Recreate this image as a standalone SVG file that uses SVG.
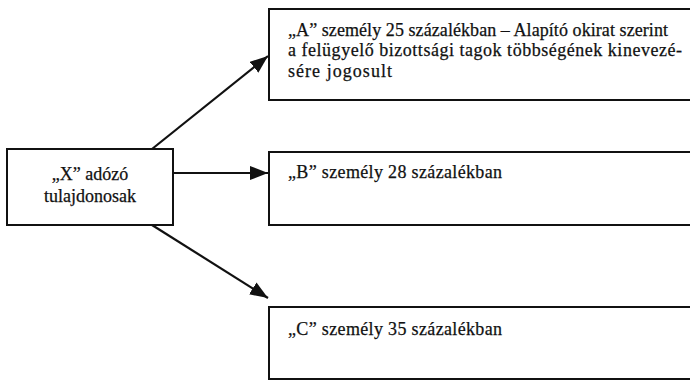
<svg xmlns="http://www.w3.org/2000/svg" width="690" height="381" viewBox="0 0 690 381">
<defs>
<style>
.box{fill:#fff;stroke:#111;stroke-width:2}
text{font-family:"Liberation Serif","DejaVu Serif",serif;font-size:18px;fill:#111;stroke:#111;stroke-width:0.25}
.c{stroke:#111;stroke-width:2.2;fill:none}
</style>
<marker id="ah" viewBox="0 0 18 14" refX="18" refY="7" markerWidth="18" markerHeight="14" markerUnits="userSpaceOnUse" orient="auto">
<path d="M0,0 L18,7 L0,14 Z" fill="#111"/>
</marker>
</defs>
<rect width="690" height="381" fill="#fff"/>
<g id="connectors">
<line class="c" x1="152" y1="149" x2="268" y2="56" marker-end="url(#ah)"/>
<line class="c" x1="173" y1="173" x2="268" y2="173" marker-end="url(#ah)"/>
<line class="c" x1="152" y1="225" x2="268" y2="298" marker-end="url(#ah)"/>
</g>
<g id="X">
<rect class="box" x="7" y="149" width="166" height="76"/>
<text x="90" y="180" text-anchor="middle" font-family="Liberation Serif, serif">„X” adózó</text>
<text x="90" y="202" text-anchor="middle" font-family="Liberation Serif, serif">tulajdonosak</text>
</g>
<g id="A">
<rect class="box" x="269" y="9" width="440" height="91"/>
<text x="288" y="36" textLength="380" lengthAdjust="spacing" font-family="Liberation Serif, serif">„A” személy 25 százalékban – Alapító okirat szerint</text>
<text x="288" y="56" textLength="394" lengthAdjust="spacing" font-family="Liberation Serif, serif">a felügyelő bizottsági tagok többségének kinevezé-</text>
<text x="288" y="77" textLength="104" lengthAdjust="spacing" font-family="Liberation Serif, serif">sére jogosult</text>
</g>
<g id="B">
<rect class="box" x="269" y="152" width="440" height="73"/>
<text x="288" y="178" textLength="214" lengthAdjust="spacing" font-family="Liberation Serif, serif">„B” személy 28 százalékban</text>
</g>
<g id="C">
<rect class="box" x="269" y="307" width="440" height="72"/>
<text x="288" y="335" textLength="214" lengthAdjust="spacing" font-family="Liberation Serif, serif">„C” személy 35 százalékban</text>
</g>
</svg>
